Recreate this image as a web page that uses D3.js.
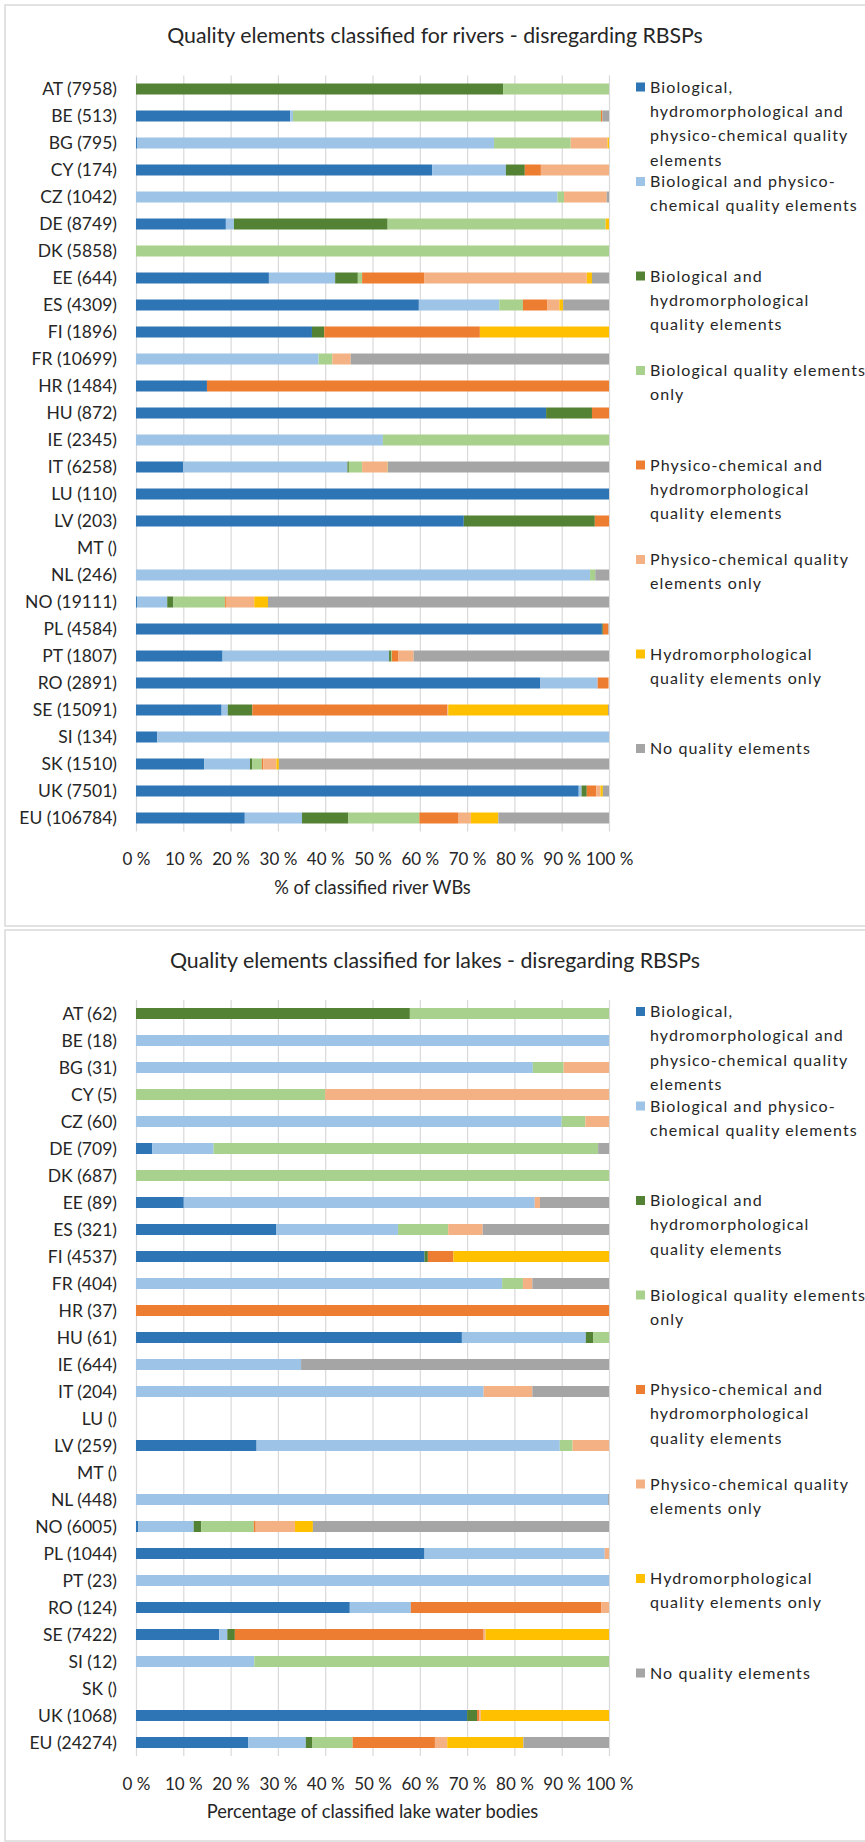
<!DOCTYPE html>
<html>
<head>
<meta charset="utf-8">
<script src="https://cdn.jsdelivr.net/npm/d3@7"></script>
<style>
  html, body { margin: 0; padding: 0; background: #ffffff; }
  svg { display: block; font-family: Lato, "Open Sans", sans-serif; }
</style>
</head>
<body>
<svg id="chart" width="865" height="1842"></svg>
<script>
// ---------------- DATA ----------------
const countries = ["AT","BE","BG","CY","CZ","DE","DK","EE","ES","FI","FR","HR","HU","IE","IT","LU","LV","MT","NL","NO","PL","PT","RO","SE","SI","SK","UK","EU"];
const riverCounts = [7958,513,795,174,1042,8749,5858,644,4309,1896,10699,1484,872,2345,6258,110,203,null,246,19111,4584,1807,2891,15091,134,1510,7501,106784];
const lakeCounts  = [62,18,31,5,60,709,687,89,321,4537,404,37,61,644,204,null,259,null,448,6005,1044,23,124,7422,12,null,1068,24274];

const seriesNames = [
  "Biological, hydromorphological and physico-chemical quality elements",
  "Biological and physico-chemical quality elements",
  "Biological and hydromorphological quality elements",
  "Biological quality elements only",
  "Physico-chemical and hydromorphological quality elements",
  "Physico-chemical quality elements only",
  "Hydromorphological quality elements only",
  "No quality elements"
];
const legendLines = [
  ["Biological,", "hydromorphological and", "physico-chemical quality", "elements"],
  ["Biological and physico-", "chemical quality elements"],
  ["Biological and", "hydromorphological", "quality elements"],
  ["Biological quality elements", "only"],
  ["Physico-chemical and", "hydromorphological", "quality elements"],
  ["Physico-chemical quality", "elements only"],
  ["Hydromorphological", "quality elements only"],
  ["No quality elements"]
];
const seriesColors = ["#2E75B6","#9DC3E6","#548235","#A9D18E","#ED7D31","#F4B183","#FFC000","#A5A5A5"];

// Rivers (% of classified river WBs), order = countries
const riverBioHymoPhys = [0,32.6,0.2,62.6,0,19.0,0,28.1,59.8,37.2,0,15.0,86.7,0,10.0,100,69.3,0,0,0.2,98.5,18.3,85.5,18.1,4.5,14.4,93.6,23.0];
const riverBioPhys     = [0,0.6,75.5,15.6,89.1,1.7,0,14.0,17.0,0,38.6,0,0,52.2,34.7,0,0,0,96.0,6.4,0,35.2,12.1,1.3,95.5,9.7,0.6,12.1];
const riverBioHymo     = [77.6,0,0,4.0,0,32.5,0,4.8,0,2.6,0,0,9.7,0,0.3,0,27.7,0,0,1.3,0.2,0.4,0,5.2,0,0.5,1.1,9.8];
const riverBioOnly     = [22.4,65.1,16.2,0,1.4,46.1,100,0.9,5.0,0,2.9,0,0,47.8,2.8,0,0,0,1.1,10.9,0,0.2,0,0,0,2.0,0,15.0];
const riverPhysHymo    = [0,0.3,0,3.4,0,0,0,13.1,5.2,32.9,0,85.0,3.6,0,0,0,3.0,0,0,0.2,1.1,1.3,2.2,41.2,0,0.3,2.0,8.3];
const riverPhysOnly    = [0,0,7.8,14.4,9.0,0,0,34.4,2.5,0,3.9,0,0,0,5.3,0,0,0,0,6.0,0.1,3.3,0.2,0.2,0,2.8,0.9,2.6];
const riverHymoOnly    = [0,0,0.3,0,0,0.7,0,1.1,0.8,27.3,0,0,0,0,0.1,0,0,0,0,2.9,0,0,0,33.8,0,0.5,0.5,5.8];
const riverNone        = [0,1.4,0,0,0.5,0,0,3.6,9.7,0,54.6,0,0,0,46.8,0,0,0,2.9,72.1,0.1,41.3,0,0.2,0,69.8,1.3,23.4];

// Lakes (% of classified lake water bodies), order = countries
const lakeBioHymoPhys = [0,0,0,0,0,3.4,0,10.1,29.6,61.0,0,0,68.9,0,0,0,25.5,0,0,0.5,61.0,0,45.2,17.6,0,0,70.0,23.7];
const lakeBioPhys     = [0,100,83.9,0,90.0,13.0,0,74.2,25.8,0,77.4,0,26.2,34.9,73.5,0,64.1,0,99.8,11.7,38.1,100,12.9,1.7,25.0,0,0,12.2];
const lakeBioHymo     = [57.9,0,0,0,0,0,0,0,0,0.7,0,0,1.6,0,0,0,0,0,0,1.6,0,0,0,1.6,0,0,2.1,1.4];
const lakeBioOnly     = [42.1,0,6.5,40.0,5.0,81.3,100,0,10.6,0,4.4,0,3.3,0,0,0,2.7,0,0,11.1,0,0,0,0,75.0,0,0,8.5];
const lakePhysHymo    = [0,0,0,0,0,0,0,0,0,5.4,0,100,0,0,0,0,0,0,0,0.4,0,0,40.3,52.6,0,0,0.5,17.4];
const lakePhysOnly    = [0,0,9.6,60.0,5.0,0,0,1.1,7.3,0,2.0,0,0,0,10.3,0,7.7,0,0,8.3,0.9,0,1.6,0.4,0,0,0.3,2.6];
const lakeHymoOnly    = [0,0,0,0,0,0,0,0,0,32.9,0,0,0,0,0,0,0,0,0,3.8,0,0,0,26.1,0,0,27.1,16.1];
const lakeNone        = [0,0,0,0,0,2.3,0,14.6,26.7,0,16.2,0,0,65.1,16.2,0,0,0,0.2,62.6,0,0,0,0,0,0,0,18.1];

const tickValues = [0,10,20,30,40,50,60,70,80,90,100];
const tickLabels = ["0 %","10 %","20 %","30 %","40 %","50 %","60 %","70 %","80 %","90 %","100 %"];

const panels = [
  { title: "Quality elements classified for rivers - disregarding RBSPs",
    axisTitle: "% of classified river WBs",
    counts: riverCounts,
    series: [riverBioHymoPhys, riverBioPhys, riverBioHymo, riverBioOnly, riverPhysHymo, riverPhysOnly, riverHymoOnly, riverNone],
    top: 5, bottom: 926, plotTop: 75.5 },
  { title: "Quality elements classified for lakes - disregarding RBSPs",
    axisTitle: "Percentage of classified lake water bodies",
    counts: lakeCounts,
    series: [lakeBioHymoPhys, lakeBioPhys, lakeBioHymo, lakeBioOnly, lakePhysHymo, lakePhysOnly, lakeHymoOnly, lakeNone],
    top: 930, bottom: 1841, plotTop: 1000 }
];

// ---------------- DRAW ----------------
const svg = d3.select("#chart");
const x = d3.scaleLinear().domain([0, 100]).range([136, 609]);
const rowStep = 27, barH = 11;
const plotH = rowStep * countries.length;
const textColor = "#262626";

panels.forEach(p => {
  const g = svg.append("g");
  const labels = countries.map((c, i) => c + " (" + (p.counts[i] == null ? "" : p.counts[i]) + ")");
  const y = d3.scalePoint().domain(labels).range([p.plotTop, p.plotTop + plotH]).padding(0.5);
  const plotBottom = p.plotTop + plotH;

  // panel frame
  g.append("rect")
    .attr("x", 5).attr("y", p.top)
    .attr("width", 900).attr("height", p.bottom - p.top)
    .attr("fill", "#ffffff").attr("stroke", "#d9d9d9").attr("stroke-width", 1.5);

  // title
  g.append("text")
    .attr("x", 435).attr("y", p.top + 31)
    .attr("text-anchor", "middle").attr("dy", "0.35em")
    .attr("font-size", 21.3).attr("fill", textColor)
    .text(p.title);

  // gridlines + tick labels
  const xAxis = g.append("g")
    .attr("transform", `translate(0,${plotBottom})`)
    .call(d3.axisBottom(x).tickValues(tickValues)
      .tickFormat((d, i) => tickLabels[i]).tickSize(-plotH).tickSizeOuter(0));
  xAxis.select(".domain").remove();
  xAxis.selectAll(".tick line").attr("stroke", "#d9d9d9").attr("stroke-width", 1.2);
  xAxis.selectAll(".tick text")
    .attr("y", 28).attr("dy", "0.35em")
    .attr("font-size", 17).attr("font-family", "Lato, sans-serif").attr("fill", textColor);

  // category labels
  const yAxis = g.append("g")
    .attr("transform", `translate(${x(0)},0)`)
    .call(d3.axisLeft(y).tickSize(0).tickPadding(19));
  yAxis.select(".domain").remove();
  yAxis.selectAll(".tick text")
    .attr("font-size", 17.5).attr("font-family", "Lato, sans-serif").attr("fill", textColor);

  // stacked bars
  const rows = labels.map((lab, i) => {
    const o = { label: lab };
    p.series.forEach((s, k) => { o["s" + k] = s[i]; });
    return o;
  });
  const keys = p.series.map((s, k) => "s" + k);
  const stacked = d3.stack().keys(keys)(rows);
  g.append("g").selectAll("g")
    .data(stacked).join("g")
    .attr("fill", (d, k) => seriesColors[k])
    .selectAll("rect")
    .data(d => d.filter(v => v[1] - v[0] > 0))
    .join("rect")
    .attr("x", d => x(d[0]))
    .attr("width", d => x(d[1]) - x(d[0]))
    .attr("y", d => y(d.data.label) - barH / 2)
    .attr("height", barH);

  // axis title
  g.append("text")
    .attr("x", (x(0) + x(100)) / 2).attr("y", plotBottom + 56)
    .attr("text-anchor", "middle").attr("dy", "0.35em")
    .attr("font-size", 18.3).attr("fill", textColor)
    .text(p.axisTitle);

  // legend
  const lg = g.append("g");
  legendLines.forEach((lines, k) => {
    const y0 = p.plotTop + 11.5 + k * 94.5;
    lg.append("rect")
      .attr("x", 636).attr("y", y0 - 4.5)
      .attr("width", 9).attr("height", 9)
      .attr("fill", seriesColors[k]);
    const t = lg.append("text")
      .attr("font-size", 16).attr("letter-spacing", 1.1).attr("fill", textColor);
    lines.forEach((ln, j) => {
      t.append("tspan").attr("x", 650).attr("y", y0 + j * 24.3).attr("dy", "0.35em").text(ln);
    });
  });
});
</script>
</body>
</html>
